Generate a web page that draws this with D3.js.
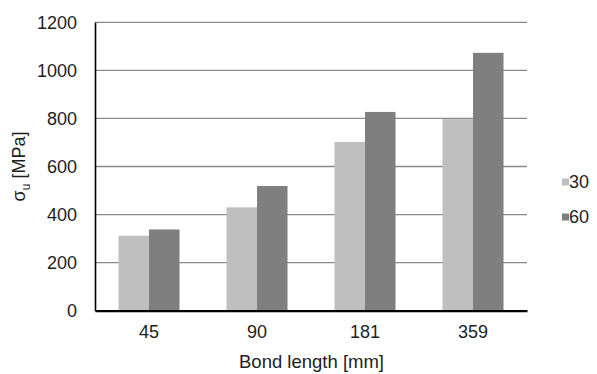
<!DOCTYPE html>
<html>
<head>
<meta charset="utf-8">
<script src="https://cdn.jsdelivr.net/npm/d3@7"></script>
<style>
  html, body { margin: 0; padding: 0; background: #fff; }
  svg { display: block; }
  text { font-family: "Liberation Sans", Arial, Helvetica, sans-serif; fill: #1e1e1e; }
</style>
</head>
<body>
<svg id="chart" width="597" height="374"></svg>
<script>
// Bond length categories and ultimate stress per series
const categories = ["45", "90", "181", "359"];
const seriesNames = ["30", "60"];
const series30 = [312, 430, 702, 797];
const series60 = [338, 519, 827, 1073];
const yTicks = [0, 200, 400, 600, 800, 1000, 1200];

const colors = { "30": "#bfbfbf", "60": "#7f7f7f" };
const valuesBySeries = { "30": series30, "60": series60 };

const svg = d3.select("#chart");
const plotLeft = 95, plotRight = 527, plotTop = 22.3, plotBottom = 310.7;

const x = d3.scaleBand().domain(categories).range([plotLeft, plotRight])
  .paddingInner(0.435).paddingOuter(0.2175);
const xInner = d3.scaleBand().domain(seriesNames).range([0, x.bandwidth()]);
const y = d3.scaleLinear().domain([0, 1200]).range([plotBottom, plotTop]);

// horizontal gridlines
svg.append("g")
  .selectAll("line")
  .data(yTicks.filter(d => d > 0))
  .join("line")
  .attr("x1", plotLeft).attr("x2", plotRight)
  .attr("y1", d => y(d)).attr("y2", d => y(d))
  .attr("stroke", "#8a8a8a").attr("stroke-width", 1.3);

// bars
const groups = svg.append("g").selectAll("g")
  .data(categories)
  .join("g")
  .attr("transform", d => `translate(${x(d)},0)`);

groups.selectAll("rect")
  .data((c, i) => seriesNames.map(s => ({ s, v: valuesBySeries[s][i] })))
  .join("rect")
  .attr("x", d => xInner(d.s))
  .attr("width", xInner.bandwidth())
  .attr("y", d => y(d.v))
  .attr("height", d => y(0) - y(d.v))
  .attr("fill", d => colors[d.s]);

// y axis
const yAxis = d3.axisLeft(y).tickValues(yTicks).tickFormat(d3.format("d"))
  .tickSize(0).tickPadding(18);
const gy = svg.append("g").attr("transform", `translate(${plotLeft},0)`).call(yAxis);
gy.select(".domain").attr("stroke", "#000").attr("stroke-width", 1.6);
gy.selectAll("text").style("font-size", "18px").attr("fill", "#1e1e1e")
  .style("font-family", '"Liberation Sans", Arial, sans-serif');

// x axis
const xAxis = d3.axisBottom(x).tickSize(0).tickPadding(15);
const gx = svg.append("g").attr("transform", `translate(0,${plotBottom})`).call(xAxis);
gx.select(".domain").attr("stroke", "#000").attr("stroke-width", 2.2);
gx.selectAll("text").style("font-size", "18px").attr("fill", "#1e1e1e")
  .style("font-family", '"Liberation Sans", Arial, sans-serif');

// axis titles
svg.append("text")
  .attr("x", (plotLeft + plotRight) / 2 + 0.5)
  .attr("y", 368)
  .attr("text-anchor", "middle")
  .style("font-size", "18.5px")
  .text("Bond length [mm]");

const yTitle = svg.append("text")
  .attr("transform", `translate(25,${(plotTop + plotBottom) / 2}) rotate(-90)`)
  .attr("text-anchor", "middle")
  .style("font-size", "18px");
yTitle.append("tspan").text("σ");
yTitle.append("tspan").attr("dy", 5).style("font-size", "12px").text("u");
yTitle.append("tspan").attr("dy", -5).text(" [MPa]");

// legend
const legend = svg.append("g");
const legendY = [182, 217];
seriesNames.forEach((s, i) => {
  legend.append("rect")
    .attr("x", 562).attr("y", legendY[i] - 3.5)
    .attr("width", 7).attr("height", 7)
    .attr("fill", colors[s]);
  legend.append("text")
    .attr("x", 569).attr("y", legendY[i])
    .attr("dy", "0.35em")
    .style("font-size", "18px")
    .text(s);
});
</script>
</body>
</html>
